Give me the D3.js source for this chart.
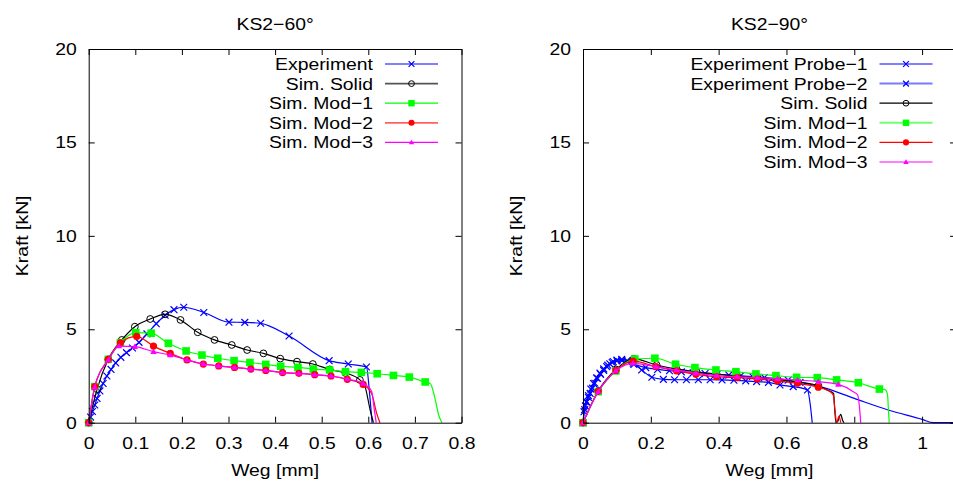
<!DOCTYPE html>
<html>
<head>
<meta charset="utf-8">
<script src="https://cdn.jsdelivr.net/npm/d3@7"></script>
<style>
	body { margin: 0; background: #fff; }
	svg { display: block; }
</style>
</head>
<body>
<svg id="chart" width="953" height="483"></svg>
<script>
// tick values
const yTicks = [0, 5, 10, 15, 20];
const xTicks60 = [0, 0.1, 0.2, 0.3, 0.4, 0.5, 0.6, 0.7, 0.8];
const xTicks90 = [0, 0.2, 0.4, 0.6, 0.8, 1];

const titles = ['KS2−60°', 'KS2−90°'];
const names60 = ['Experiment', 'Sim. Solid', 'Sim. Mod−1', 'Sim. Mod−2', 'Sim. Mod−3'];
const names90 = ['Experiment Probe−1', 'Experiment Probe−2', 'Sim. Solid', 'Sim. Mod−1', 'Sim. Mod−2', 'Sim. Mod−3'];

// KS2-60 : [Weg mm, Kraft kN], tail = unloading part (no markers)
const exp60 = [[0,0],[0.004,0.3],[0.008,0.6],[0.013,0.95],[0.018,1.3],[0.024,1.7],[0.031,2.1],[0.039,2.5],[0.048,2.85],[0.058,3.2],[0.069,3.5],[0.081,3.75],[0.094,4.0],[0.108,4.3],[0.125,4.75],[0.145,5.3],[0.164,5.75],[0.183,6.05],[0.204,6.18],[0.247,5.9],[0.301,5.38],[0.335,5.37],[0.369,5.32],[0.43,4.64],[0.516,3.32],[0.557,3.14],[0.596,2.98]];
const exp60Tail = [[0.603,1.5],[0.608,0]];
const solid60 = [[0,0],[0.018,1.8],[0.042,3.39],[0.071,4.43],[0.099,5.14],[0.132,5.55],[0.164,5.8],[0.197,5.5],[0.234,4.84],[0.27,4.43],[0.307,4.16],[0.34,3.89],[0.375,3.71],[0.411,3.43],[0.447,3.27],[0.481,3.14],[0.517,2.85],[0.551,2.66],[0.582,2.29]];
const solid60Tail = [[0.593,1.93],[0.604,0.68],[0.611,0]];
const mod1_60 = [[0,0],[0.013,1.93],[0.042,3.39],[0.068,4.28],[0.101,4.82],[0.134,4.79],[0.171,4.25],[0.209,3.84],[0.243,3.62],[0.277,3.45],[0.312,3.32],[0.346,3.22],[0.38,3.12],[0.412,3.02],[0.449,2.96],[0.482,2.87],[0.517,2.82],[0.551,2.73],[0.585,2.69],[0.619,2.62],[0.654,2.53],[0.688,2.44],[0.722,2.18]];
const mod1_60Tail = [[0.733,2.1],[0.744,1.2],[0.751,0.41],[0.758,0]];
const mod2_60 = [[0,0],[0.013,1.93],[0.042,3.39],[0.068,4.28],[0.103,4.62],[0.139,4.1],[0.175,3.71],[0.211,3.36],[0.246,3.14],[0.279,3.04],[0.313,2.96],[0.348,2.87],[0.38,2.8],[0.416,2.68],[0.451,2.64],[0.485,2.57],[0.52,2.5],[0.555,2.32],[0.589,2.05]];
const mod2_60Tail = [[0.607,1.57],[0.618,0.5],[0.625,0]];
const mod3_60 = [[0,0],[0.013,1.9],[0.042,3.35],[0.065,4.1],[0.099,4.07],[0.139,3.8],[0.175,3.62],[0.211,3.36],[0.246,3.14],[0.279,3.04],[0.313,2.96],[0.348,2.87],[0.38,2.8],[0.416,2.68],[0.451,2.64],[0.485,2.57],[0.52,2.5],[0.555,2.34],[0.589,2.1]];
const mod3_60Tail = [[0.607,1.7],[0.613,0.68],[0.617,0]];

// KS2-90
const probe1 = [[0,0],[0.003,0.59],[0.007,0.9],[0.011,1.12],[0.016,1.35],[0.021,1.57],[0.028,1.85],[0.035,2.11],[0.043,2.37],[0.052,2.59],[0.061,2.8],[0.07,3.0],[0.079,3.15],[0.089,3.27],[0.1,3.35],[0.114,3.39],[0.13,3.33],[0.148,3.18],[0.173,2.82],[0.203,2.43],[0.237,2.32],[0.27,2.3],[0.305,2.3],[0.34,2.3],[0.375,2.3],[0.41,2.29],[0.445,2.27],[0.48,2.24],[0.512,2.2],[0.547,2.16],[0.581,2.02],[0.62,1.93],[0.662,1.75]];
const probe1Tail = [[0.67,1.0],[0.676,0]];
const probe2 = [[0,0],[0.005,0.7],[0.01,1.1],[0.016,1.45],[0.023,1.8],[0.031,2.1],[0.04,2.4],[0.05,2.65],[0.061,2.88],[0.073,3.08],[0.086,3.22],[0.1,3.3],[0.115,3.32],[0.13,3.27],[0.15,3.12],[0.185,2.95],[0.22,2.85],[0.255,2.78],[0.29,2.72],[0.325,2.67],[0.36,2.63],[0.395,2.59],[0.43,2.55],[0.465,2.51],[0.5,2.47],[0.535,2.42],[0.57,2.36],[0.605,2.28],[0.64,2.16]];
const probe2Tail = [[0.7,1.93],[0.8,1.3],[0.9,0.68],[1.0,0.18],[1.033,0],[1.1,0]];
const solid90 = [[0,0],[0.045,1.7],[0.097,2.85],[0.15,3.42],[0.217,3.09],[0.276,2.88],[0.335,2.72],[0.394,2.6],[0.455,2.5],[0.514,2.42],[0.574,2.3],[0.633,2.18],[0.694,1.98]];
const solid90Tail = [[0.72,1.75],[0.739,1.57],[0.742,0.8],[0.746,0],[0.752,0.1],[0.76,0.45],[0.766,0.1],[0.77,0]];
const mod1_90 = [[0,0],[0.045,1.66],[0.097,2.77],[0.153,3.41],[0.212,3.45],[0.273,3.13],[0.33,2.95],[0.392,2.82],[0.451,2.73],[0.51,2.61],[0.569,2.52],[0.63,2.43],[0.691,2.41],[0.748,2.29],[0.812,2.14],[0.874,1.8]];
const mod1_90Tail = [[0.89,1.78],[0.898,1.5],[0.901,0.6],[0.903,0]];
const mod2_90 = [[0,0],[0.045,1.68],[0.097,2.8],[0.148,3.3],[0.215,3.0],[0.276,2.77],[0.333,2.59],[0.394,2.46],[0.455,2.41],[0.514,2.34],[0.574,2.23],[0.633,2.11],[0.694,1.9]];
const mod2_90Tail = [[0.715,1.78],[0.729,1.66],[0.738,1.48],[0.743,0.7],[0.748,0],[0.755,0.35],[0.76,0]];
const mod3_90 = [[0,0],[0.045,1.66],[0.097,2.78],[0.148,3.18],[0.215,3.0],[0.276,2.82],[0.333,2.65],[0.394,2.52],[0.455,2.46],[0.514,2.41],[0.574,2.35],[0.633,2.28],[0.694,2.2],[0.753,2.05]];
const mod3_90Tail = [[0.797,1.66],[0.81,1.48],[0.816,0.7],[0.819,0]];

const FONT = "'Liberation Sans', Arial, sans-serif";
const FS = 17;
const STRETCH = 1.14;

const svg = d3.select('#chart');

// text helper, font is a bit wider than helvetica in the original
function label(g, x, y, str, anchor, rot) {
	return g.append('text')
		.attr('transform', `translate(${x},${y}) rotate(${rot || 0}) scale(${STRETCH},1)`)
		.attr('text-anchor', anchor || 'middle')
		.attr('font-family', FONT)
		.attr('font-size', FS)
		.attr('fill', '#000')
		.text(str);
}

function marker(g, shape, color, x, y, k) {
	k = k || 1;
	if (shape === 'cross') {
		let r = 3.4 * k;
		g.append('path').attr('d', `M${x-r},${y-r}L${x+r},${y+r}M${x-r},${y+r}L${x+r},${y-r}`)
			.attr('stroke', color).attr('stroke-width', 1.2).attr('fill', 'none');
	} else if (shape === 'circle') {
		g.append('circle').attr('cx', x).attr('cy', y).attr('r', 3.4 * k)
			.attr('stroke', color).attr('stroke-width', 1).attr('fill', 'none');
	} else if (shape === 'square') {
		let r = 3.8 * k;
		g.append('rect').attr('x', x-r).attr('y', y-r).attr('width', 2*r).attr('height', 2*r).attr('fill', color);
	} else if (shape === 'dot') {
		g.append('circle').attr('cx', x).attr('cy', y).attr('r', 3.6 * k).attr('fill', color);
	} else if (shape === 'tri') {
		let r = 3.2 * k;
		g.append('path').attr('d', `M${x},${y-r}L${x+r},${y+r*0.7}L${x-r},${y+r*0.7}Z`).attr('fill', color);
	}
}

function panel(range, xTicks, title, series) {
	let x = d3.scaleLinear().domain([xTicks[0], range[0]]).range(range[1]);
	let y = d3.scaleLinear().domain([0, 20]).range([422.7, 49]);
	let [x0, x1] = x.range();
	let g = svg.append('g');

	let line = d3.line().x(d => x(d[0])).y(d => y(d[1])).curve(d3.curveMonotoneX);

	// curves
	series.forEach(s => {
		g.append('path')
			.attr('d', line(s.pts.concat(s.tail)))
			.attr('fill', 'none')
			.attr('stroke', s.color)
			.attr('stroke-width', 1.2);
		let mg = g.append('g');
		s.pts.forEach(p => marker(mg, s.mark, s.color, x(p[0]), y(p[1])));
	});

	// axes, ticks inward and mirrored
	let axes = [
		[d3.axisBottom(x).tickValues(xTicks).tickFormat(d3.format('')).tickPadding(14), `translate(0,${y(0)})`],
		[d3.axisTop(x).tickValues(xTicks).tickFormat(''), `translate(0,${y(20)})`],
		[d3.axisLeft(y).tickValues(yTicks).tickPadding(10.5), `translate(${x0},0)`],
		[d3.axisRight(y).tickValues(yTicks).tickFormat(''), `translate(${x1},0)`]
	];
	axes.forEach(a => {
		let ag = g.append('g').attr('transform', a[1]).call(a[0].tickSize(-6).tickSizeOuter(0));
		ag.selectAll('path, line').attr('stroke', '#000');
		ag.selectAll('text')
			.attr('font-family', FONT)
			.attr('font-size', FS)
			.attr('fill', '#000')
			.attr('transform', `scale(${STRETCH},1)`);
	});

	let cx = (x0 + x1) / 2;
	label(svg, cx, 30, title);
	label(svg, cx, 476, 'Weg [mm]');
	label(svg, x0 - 61, (y(0) + y(20)) / 2, 'Kraft [kN]', 'middle', -90);

	// legend
	series.forEach((s, i) => {
		let ly = 64 + 19.6 * i;
		label(svg, x1 - 88.5, ly + 6, s.name, 'end');
		svg.append('line')
			.attr('x1', x1 - 76.5).attr('x2', x1 - 23.5)
			.attr('y1', ly).attr('y2', ly)
			.attr('stroke', s.legendColor).attr('stroke-width', s.legendWidth);
		marker(svg, s.mark, s.color, x1 - 50, ly, 0.85);
	});
}

panel([0.8, [88.7, 461.5]], xTicks60, titles[0], [
	{ name: names60[0], pts: exp60, tail: exp60Tail, color: '#0000ff', mark: 'cross', legendColor: '#0000ff', legendWidth: 1.2 },
	{ name: names60[1], pts: solid60, tail: solid60Tail, color: '#000000', mark: 'circle', legendColor: '#555555', legendWidth: 1.6 },
	{ name: names60[2], pts: mod1_60, tail: mod1_60Tail, color: '#00ff00', mark: 'square', legendColor: '#00ff00', legendWidth: 1.2 },
	{ name: names60[3], pts: mod2_60, tail: mod2_60Tail, color: '#ff0000', mark: 'dot', legendColor: '#ff6060', legendWidth: 1.8 },
	{ name: names60[4], pts: mod3_60, tail: mod3_60Tail, color: '#ff00ff', mark: 'tri', legendColor: '#ff00ff', legendWidth: 1.2 }
]);

panel([1.1, [583, 956]], xTicks90, titles[1], [
	{ name: names90[0], pts: probe1, tail: probe1Tail, color: '#0000ff', mark: 'cross', legendColor: '#0000ff', legendWidth: 1.2 },
	{ name: names90[1], pts: probe2, tail: probe2Tail, color: '#0000ff', mark: 'cross', legendColor: '#7a7aff', legendWidth: 2 },
	{ name: names90[2], pts: solid90, tail: solid90Tail, color: '#000000', mark: 'circle', legendColor: '#000000', legendWidth: 1.2 },
	{ name: names90[3], pts: mod1_90, tail: mod1_90Tail, color: '#00ff00', mark: 'square', legendColor: '#70ff70', legendWidth: 2 },
	{ name: names90[4], pts: mod2_90, tail: mod2_90Tail, color: '#ff0000', mark: 'dot', legendColor: '#ff0000', legendWidth: 1.2 },
	{ name: names90[5], pts: mod3_90, tail: mod3_90Tail, color: '#ff00ff', mark: 'tri', legendColor: '#ff80ff', legendWidth: 2 }
]);
</script>
</body>
</html>
